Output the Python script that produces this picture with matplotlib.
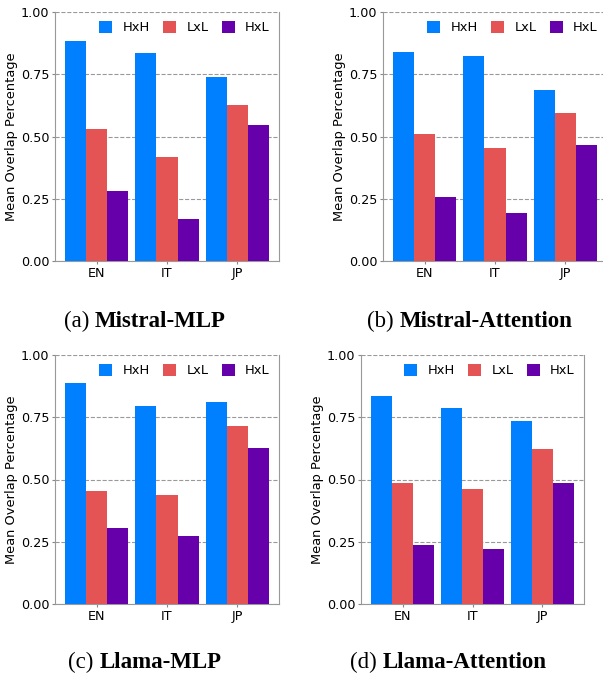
import numpy as np
import matplotlib.pyplot as plt

langs = ["EN", "IT", "JP"]
series = ["HxH", "LxL", "HxL"]
colors = ["#0080FF", "#E55454", "#6600AA"]

# values per panel: rows = HxH, LxL, HxL ; cols = EN, IT, JP
mistral_mlp = [[0.883, 0.835, 0.740],
               [0.530, 0.419, 0.628],
               [0.281, 0.167, 0.545]]
mistral_att = [[0.839, 0.822, 0.687],
               [0.509, 0.452, 0.593],
               [0.256, 0.194, 0.465]]
llama_mlp = [[0.888, 0.794, 0.812],
             [0.455, 0.437, 0.713],
             [0.305, 0.273, 0.628]]
llama_att = [[0.834, 0.787, 0.735],
             [0.485, 0.460, 0.623],
             [0.238, 0.219, 0.487]]

panels = [("(a) ", "Mistral-MLP", mistral_mlp, [55, 12, 224, 249], 145, 321),
          ("(b) ", "Mistral-Attention", mistral_att, [383, 12, 224, 249], 470, 321),
          ("(c) ", "Llama-MLP", llama_mlp, [55, 355, 224, 249], 145, 662),
          ("(d) ", "Llama-Attention", llama_att, [361, 355, 223, 249], 448, 662)]

W, H = 603, 674
fig = plt.figure(figsize=(W / 100, H / 100), dpi=100)

x = np.arange(len(langs))
bw = 0.3
captions = []
for pre, name, vals, (l, t, w, h), cx, cy in panels:
    ax = fig.add_axes([l / W, (H - t - h) / H, w / W, h / H])
    for i, s in enumerate(series):
        ax.bar(x + (i - 1) * bw, vals[i], bw, color=colors[i], label=s, zorder=3)
    ax.set_ylim(0, 1)
    ax.set_yticks([0, 0.25, 0.5, 0.75, 1.0])
    ax.set_yticklabels(["0.00", "0.25", "0.50", "0.75", "1.00"])
    ax.set_xticks(x)
    ax.set_xticklabels(langs)
    ax.tick_params(labelsize=9.2, color="#888888", length=2.5, pad=1.5)
    ax.yaxis.grid(True, linestyle="--", color="#999999", linewidth=0.8, zorder=0)
    for sp in ["left", "right", "bottom"]:
        ax.spines[sp].set_color("#999999")
    ax.spines["top"].set_visible(False)
    ax.set_ylabel("Mean Overlap Percentage", fontsize=9.4, labelpad=2)
    ax.legend(loc="upper right", ncol=3, frameon=False, fontsize=9.4,
              handlelength=1.0, handleheight=1.0, columnspacing=1.0,
              handletextpad=0.8, borderaxespad=0.3)
    t1 = fig.text(0, 1 - cy / H, pre, family="Liberation Serif", fontsize=16.5, va="center")
    t2 = fig.text(0, 1 - cy / H, name, family="Liberation Serif", fontsize=16.5,
                  fontweight="bold", va="center")
    captions.append((t1, t2, cx))

fig.canvas.draw()
r = fig.canvas.get_renderer()
for t1, t2, cx in captions:
    w1 = t1.get_window_extent(r).width
    w2 = t2.get_window_extent(r).width
    x0 = cx - (w1 + w2) / 2
    t1.set_x(x0 / W)
    t2.set_x((x0 + w1) / W)

fig.savefig("out.png", dpi=100)
